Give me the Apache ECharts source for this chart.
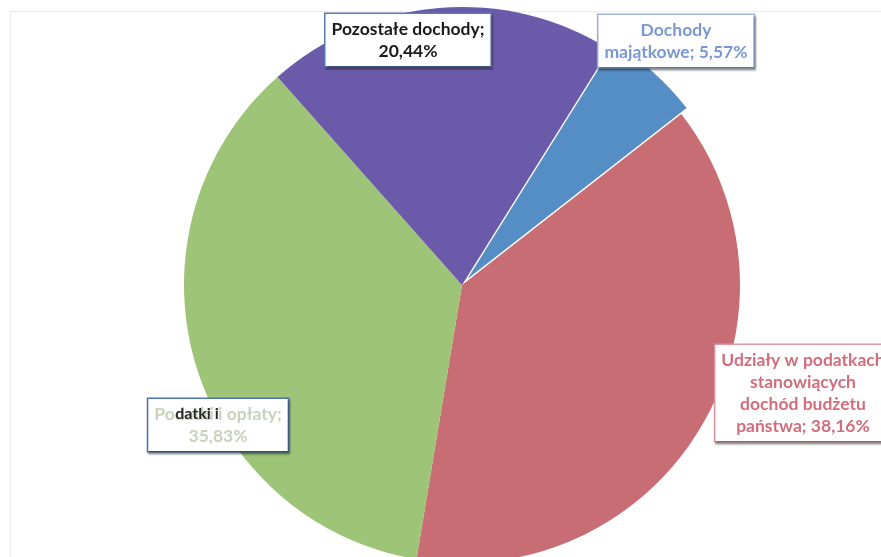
<!DOCTYPE html>
<html>
<head>
<meta charset="utf-8">
<script src="https://cdn.jsdelivr.net/npm/echarts@6/dist/echarts.min.js"></script>
<style>
html,body{margin:0;padding:0;background:#fff;}
#chart{width:881px;height:557px;}
</style>
</head>
<body>
<div id="chart"></div>
<script>
// Data (clockwise order, starting at the exploded slice)
var categories = ['Dochody majątkowe', 'Udziały w podatkach stanowiących dochód budżetu państwa', 'Podatki i opłaty', 'Pozostałe dochody'];
var labelTexts = ['Dochody\nmajątkowe', 'Udziały w podatkach\nstanowiących\ndochód budżetu\npaństwa', 'Podatki i opłaty', 'Pozostałe dochody'];
var values = [5.57, 38.16, 35.83, 20.44];
var colors = ['#558dc5', '#c96d74', '#9ec477', '#6a5aa9'];
var explodedIndex = 0;

var labelStyles = [
  {color: '#7a98d4', borderColor: '#9fb4d8', fontWeight: 'bold', sep: ' ', x: 676, y: 41},
  {color: '#d16e7d', borderColor: '#dc98a2', fontWeight: 'bold', sep: ' ', x: 803, y: 393},
  {color: '#c9d3bb', borderColor: '#4d73b6', fontWeight: 'bold', sep: '\n', x: 218, y: 425},
  {color: '#1a1a1a', borderColor: '#5a78b4', fontWeight: 'bold', sep: '\n', x: 408, y: 40}
];

function fmt(v) { return v.toFixed(2).replace('.', ','); }

var cx = 462, cy = 285, R = 278, startCW = 32, explode = 8;
var total = values.reduce(function (a, b) { return a + b; }, 0);
var before = 0;
for (var k = 0; k < explodedIndex; k++) before += values[k];
var mid = (startCW + (before + values[explodedIndex] / 2) / total * 360) * Math.PI / 180;
var cx2 = cx + explode * Math.sin(mid), cy2 = cy - explode * Math.cos(mid);
var clear = 'rgba(0,0,0,0)';

var mainData = values.map(function (v, i) {
  var s = labelStyles[i];
  return {
    name: categories[i],
    value: v,
    itemStyle: {color: i === explodedIndex ? clear : colors[i]},
    label: {
      formatter: labelTexts[i] + ';' + s.sep + fmt(v) + '%',
      color: s.color,
      fontWeight: s.fontWeight,
      borderColor: s.borderColor
    }
  };
});
var explodedData = values.map(function (v, i) {
  return {
    name: categories[i],
    value: v,
    itemStyle: {color: i === explodedIndex ? colors[i] : clear}
  };
});

var chart = echarts.init(document.getElementById('chart'), null, {renderer: 'canvas'});
chart.setOption({
  animation: false,
  backgroundColor: '#ffffff',
  graphic: [{
    type: 'rect', z: -10, silent: true,
    shape: {x: 10.5, y: 11.5, width: 900, height: 600},
    style: {fill: 'none', stroke: '#ececec', lineWidth: 1}
  }, {
    type: 'text', z: 100, silent: true,
    style: {text: 'datki i', x: 197, y: 414, align: 'center', verticalAlign: 'middle',
      font: 'bold 16px Lato, "DejaVu Sans", sans-serif', fill: '#2a2a2a'}
  }],
  series: [{
    type: 'pie',
    z: 1,
    center: [cx2, cy2],
    radius: [0, R],
    startAngle: 90 - startCW,
    clockwise: true,
    silent: true,
    emphasis: {disabled: true},
    label: {show: false},
    labelLine: {show: false},
    data: explodedData
  }, {
    type: 'pie',
    z: 2,
    center: [cx, cy],
    radius: [0, R],
    startAngle: 90 - startCW,
    clockwise: true,
    avoidLabelOverlap: false,
    emphasis: {disabled: true},
    itemStyle: {borderWidth: 0},
    label: {
      show: true,
      fontFamily: 'Lato, "DejaVu Sans", sans-serif',
      fontSize: 17.5,
      lineHeight: 22,
      align: 'center',
      backgroundColor: '#ffffff',
      borderWidth: 1.5,
      padding: [4, 6, 4, 6],
      shadowColor: 'rgba(0,0,0,0.35)',
      shadowOffsetX: 1,
      shadowOffsetY: 2,
      shadowBlur: 2
    },
    labelLine: {show: false},
    labelLayout: function (p) {
      var s = labelStyles[p.dataIndex];
      return {x: s.x, y: s.y, align: 'center', verticalAlign: 'middle'};
    },
    data: mainData
  }]
});
</script>
</body>
</html>
